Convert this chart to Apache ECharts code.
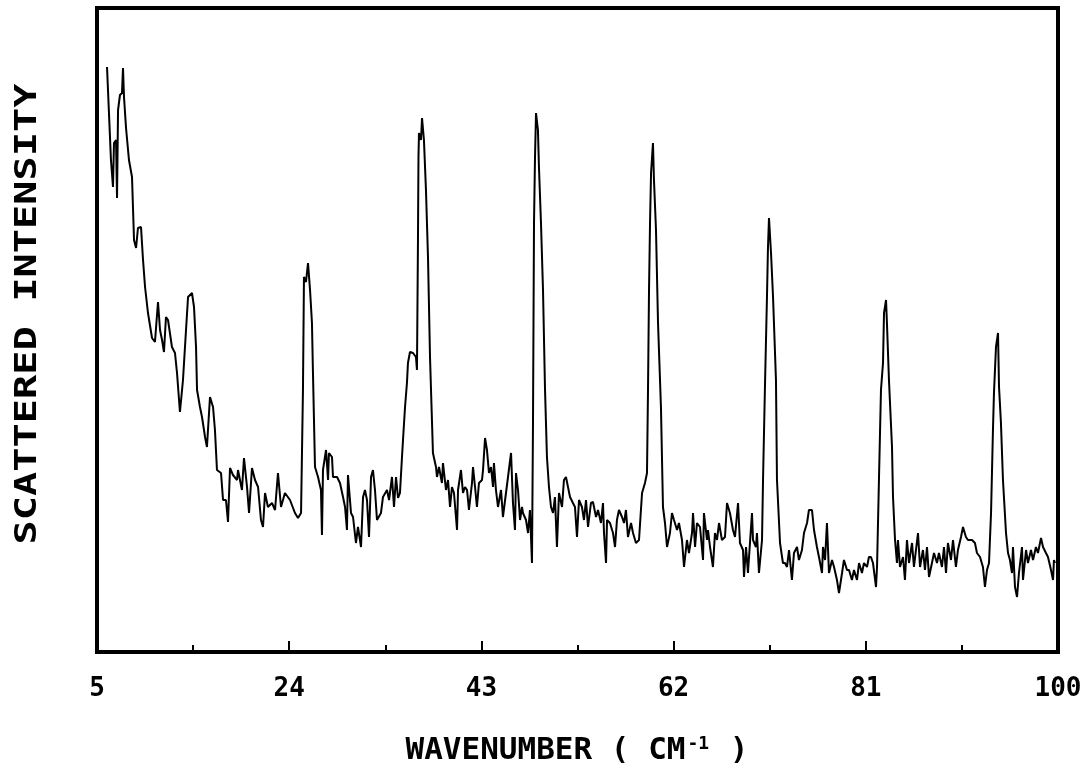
<!DOCTYPE html>
<html lang="en">
<head>
	<meta charset="UTF-8">
	<title>scattered intensity</title>
    <script src="https://cdn.jsdelivr.net/npm/echarts@6/dist/echarts.min.js"></script>
    <style>
        html,body{margin:0;padding:0;background:#fff;}
        .main{width:1090px;height:768px;}
    </style>
</head>
<body>
    <div id="main" class="main"></div>
    <script type="text/javascript">
        // wavenumber (cm-1) and intensity (arbitrary units)
        var wavenumber = [
            5.99, 6.38, 6.58, 6.68, 6.88, 6.98, 7.08, 7.27, 7.47, 7.57, 7.67, 7.87, 8.16, 8.46, 8.66, 8.86, 9.05, 9.35, 9.55, 9.75,
            10.04, 10.44, 10.73, 11.03, 11.23, 11.43, 11.62, 11.82, 12.02, 12.41, 12.71, 12.91, 13.20, 13.50, 13.80, 14.00, 14.39, 14.59, 14.79, 14.89,
            15.18, 15.38, 15.68, 15.87, 16.17, 16.47, 16.66, 16.86, 17.26, 17.46, 17.75, 17.95, 18.15, 18.44, 18.84, 18.94, 19.33, 19.53, 19.83, 20.03,
            20.32, 20.62, 20.92, 21.21, 21.41, 21.61, 21.90, 22.30, 22.60, 22.89, 23.19, 23.58, 24.08, 24.57, 24.87, 25.17,
            25.36, 25.46, 25.66, 25.86, 26.06, 26.25, 26.35, 26.55, 26.85, 27.14, 27.24, 27.34, 27.64, 27.84, 27.93, 28.23, 28.33, 28.73, 29.02, 29.32,
            29.52, 29.71, 29.81, 30.11, 30.31, 30.60, 30.80, 31.10, 31.30, 31.49, 31.69, 31.89, 32.09, 32.28, 32.48, 32.68, 33.07, 33.27, 33.67, 33.87,
            34.16, 34.36, 34.56, 34.76, 34.95, 35.15, 35.25, 35.45, 35.64, 35.74, 35.94, 36.24, 36.53, 36.63, 36.73, 36.78, 36.83, 37.03, 37.13, 37.32,
            37.52, 37.72, 37.92, 38.12, 38.21, 38.51, 38.61, 38.81, 39.10, 39.20, 39.50, 39.70, 39.90, 40.09, 40.29, 40.59, 40.69, 40.98, 41.18, 41.38,
            41.58, 41.77, 42.07, 42.17, 42.37, 42.56, 42.76, 43.06, 43.16, 43.36, 43.55, 43.75,
            43.95, 44.15, 44.24, 44.44, 44.64, 44.94, 45.13, 45.43, 45.63, 45.93, 46.12, 46.32, 46.42, 46.62, 46.82, 47.01, 47.11, 47.41, 47.61, 47.80,
            48.00, 48.10, 48.15, 48.20, 48.30, 48.40, 48.59, 48.69, 48.89, 49.09, 49.29, 49.48, 49.68, 49.88, 50.08, 50.27, 50.47, 50.67, 50.97, 51.16,
            51.36, 51.56, 51.76, 52.05, 52.25, 52.45, 52.65, 52.94, 53.14, 53.34, 53.54, 53.83, 54.03, 54.33, 54.53, 54.82, 55.02, 55.12, 55.32, 55.42,
            55.71, 56.01, 56.21, 56.40, 56.60, 56.90, 57.10, 57.29, 57.49, 57.79, 57.99, 58.28, 58.58, 58.88, 59.17, 59.37, 59.47, 59.57, 59.67, 59.77,
            59.96, 60.06, 60.26, 60.46, 60.75, 60.95, 61.15, 61.35, 61.64, 61.84, 62.04, 62.34, 62.53,
            62.83, 63.03, 63.32, 63.52, 63.82, 63.92, 64.12, 64.31, 64.61, 64.91, 65.00, 65.30, 65.40, 65.60, 65.89, 66.09, 66.29, 66.49, 66.78, 67.08,
            67.28, 67.57, 67.87, 68.07, 68.37, 68.56, 68.86, 68.96, 69.16, 69.35, 69.55, 69.75, 69.85, 70.14, 70.24, 70.44, 70.74, 70.84, 71.03, 71.23,
            71.33, 71.43, 71.63, 71.83, 72.12, 72.22, 72.52, 72.81, 73.01, 73.21, 73.41, 73.70, 73.90, 74.20, 74.39, 74.69, 74.89, 75.19, 75.38, 75.68,
            75.88, 76.17, 76.37, 76.67, 76.77, 76.97, 77.16, 77.36, 77.66, 77.86, 78.15, 78.35, 78.65, 78.84, 79.14, 79.34, 79.63, 79.83, 80.13, 80.33,
            80.62, 80.82, 81.12, 81.31,
            81.51, 81.71, 82.01, 82.11, 82.30, 82.50, 82.70, 82.80, 83.00, 83.09, 83.29, 83.59, 83.69, 83.89, 84.08, 84.18, 84.38, 84.68, 84.87, 85.07,
            85.27, 85.57, 85.76, 85.96, 86.16, 86.36, 86.65, 86.85, 87.05, 87.25, 87.54, 87.74, 88.04, 88.23, 88.53, 88.73, 88.93, 89.12, 89.42, 89.62,
            89.91, 90.11, 90.41, 90.61, 90.90, 91.10, 91.50, 91.79, 91.99, 92.29, 92.58, 92.78, 92.98, 93.18, 93.38, 93.57, 93.67, 93.87, 94.07, 94.17,
            94.36, 94.56, 94.86, 95.06, 95.25, 95.45, 95.55, 95.75, 95.95, 96.14, 96.44, 96.54, 96.84, 97.03, 97.33, 97.53, 97.82, 98.02, 98.32, 98.52,
            98.81, 99.01, 99.31, 99.51, 99.60, 99.70
        ];
        var intensity = [
            585, 492, 465, 509, 512, 454, 542, 557, 559, 584, 555, 524, 492, 475, 412, 404, 424, 425, 392, 365,
            339, 314, 310, 350, 322, 312, 300, 335, 332, 305, 299, 279, 240, 272, 322, 355, 359, 345, 305, 262,
            245, 235, 215, 205, 255, 245, 222, 182, 179, 152, 152, 130, 184, 177, 172, 182, 162, 194, 165, 139,
            184, 172, 165, 132, 125, 159, 145, 149, 142, 179, 145, 159, 152, 139, 134, 139,
            262, 375, 370, 389, 362, 329, 279, 185, 175, 162, 117, 182, 202, 172, 199, 195, 175, 175, 169, 155,
            145, 122, 177, 139, 135, 109, 125, 105, 155, 162, 152, 115, 175, 182, 162, 132, 139, 155, 162, 152,
            175, 145, 175, 154, 159, 195, 212, 245, 269, 289, 300, 299, 295, 282, 412, 495, 519, 512, 534, 512,
            462, 395, 295, 229, 199, 185, 175, 185, 169, 189, 162, 172, 145, 165, 159, 122, 162, 182, 159, 165,
            162, 142, 169, 185, 165, 145, 169, 172, 182, 214, 202, 179,
            185, 165, 189, 162, 145, 162, 135, 159, 175, 199, 149, 122, 179, 162, 132, 145, 139, 132, 119, 142,
            89, 229, 329, 429, 495, 539, 522, 485, 429, 362, 262, 195, 165, 145, 139, 155, 105, 159, 145, 172,
            175, 165, 155, 149, 145, 115, 152, 145, 132, 152, 125, 149, 150, 135, 142, 129, 149, 119, 89, 132,
            129, 119, 105, 132, 142, 135, 129, 142, 115, 129, 119, 109, 112, 159, 169, 179, 262, 362, 429, 479,
            509, 472, 422, 329, 245, 145, 129, 105, 119, 139, 132, 122, 129,
            112, 85, 112, 99, 119, 139, 105, 129, 125, 92, 139, 112, 122, 105, 85, 119, 112, 129, 112, 115,
            149, 139, 122, 115, 149, 109, 102, 75, 105, 79, 109, 139, 112, 105, 119, 79, 112, 172, 265, 355,
            405, 434, 399, 355, 272, 172, 109, 89, 89, 85, 102, 72, 99, 105, 92, 102, 119, 129, 142, 142,
            122, 105, 95, 79, 105, 92, 129, 79, 92, 85, 72, 59, 79, 92, 82, 82, 72, 82, 72, 89,
            79, 89, 85, 95,
            95, 89, 65, 85, 172, 262, 289, 339, 352, 329, 272, 205, 155, 112, 89, 112, 85, 95, 72, 112,
            89, 109, 85, 102, 119, 85, 102, 82, 105, 75, 89, 99, 89, 99, 85, 105, 79, 109, 92, 112,
            85, 102, 115, 125, 115, 112, 112, 109, 99, 95, 85, 65, 82, 89, 139, 222, 259, 305, 319, 265,
            229, 172, 119, 99, 92, 79, 105, 65, 55, 79, 105, 72, 102, 89, 102, 92, 105, 99, 114, 105,
            99, 95, 82, 72, 92, 89
        ];
        var majorTicks = [24, 43, 62, 81];
        var tickLabels = [5, 24, 43, 62, 81, 100];
        var minorTicks = [14.5, 33.5, 52.5, 71.5, 90.5];

        var spectrum = wavenumber.map(function(w, i){ return [w, intensity[i]]; });
        var plotFont = '"DejaVu Sans Mono", monospace';

        var myChart = echarts.init(document.getElementById('main'));
        var option = {
            animation: false,
            backgroundColor: '#fff',
            grid: {left: 97, right: 32, top: 8, bottom: 116, show: true, borderColor: '#000', borderWidth: 4},
            xAxis: [{
                type: 'value', min: 5, max: 100,
                splitLine: {show: false},
                axisLine: {show: false},
                axisTick: {show: true, inside: true, length: 11, customValues: majorTicks, lineStyle: {color: '#000', width: 2}},
                axisLabel: {customValues: tickLabels, margin: 24, color: '#000', fontFamily: plotFont, fontWeight: 'bold', fontSize: 26}
            }, {
                type: 'value', min: 5, max: 100, position: 'bottom',
                splitLine: {show: false},
                axisLine: {show: false},
                axisTick: {show: true, inside: true, length: 7, customValues: minorTicks, lineStyle: {color: '#000', width: 2}},
                axisLabel: {show: false}
            }],
            yAxis: {
                type: 'value', min: 0, max: 644,
                axisLine: {show: false}, axisTick: {show: false}, axisLabel: {show: false}, splitLine: {show: false}
            },
            graphic: [{
                type: 'text', x: 28, y: 314, rotation: Math.PI / 2, scaleX: 1.3,
                style: {text: 'SCATTERED INTENSITY', font: 'bold 31px ' + plotFont, fill: '#000', align: 'center', verticalAlign: 'middle'}
            }, {
                type: 'text', x: 577, y: 751,
                style: {
                    text: 'WAVENUMBER ( CM{sup|-1} )', font: 'bold 31px ' + plotFont, fill: '#000', align: 'center', verticalAlign: 'middle',
                    rich: {sup: {fontFamily: plotFont, fontWeight: 'bold', fontSize: 18, verticalAlign: 'top', padding: [0, 2, 14, 2]}}
                }
            }],
            series: [{
                type: 'line', xAxisIndex: 0, data: spectrum, showSymbol: false, smooth: false,
                lineStyle: {color: '#000', width: 2}
            }]
        };
        myChart.setOption(option);
    </script>
</body>
</html>
